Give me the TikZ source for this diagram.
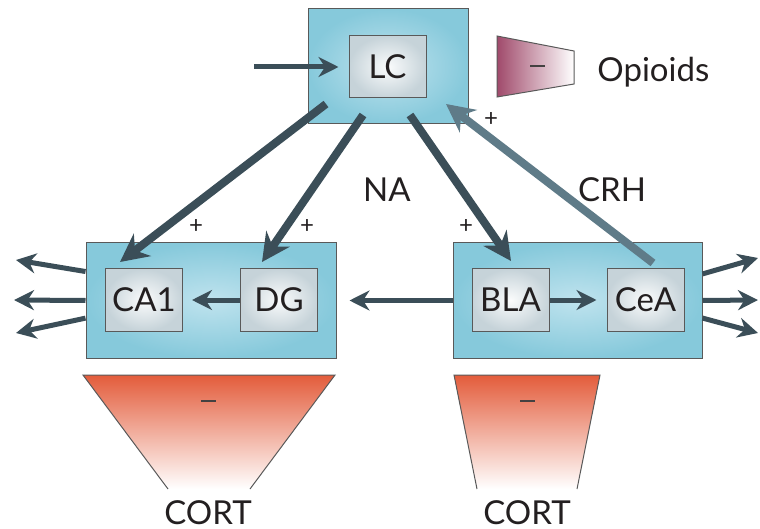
\documentclass[tikz,border=0pt]{standalone}
\usepackage{fontspec}
\setmainfont{Lato}
\usetikzlibrary{arrows.meta}
\definecolor{arrowdark}{HTML}{3B4E58}
\definecolor{crhgray}{HTML}{5F7B88}
\definecolor{boxblue}{HTML}{86C9DB}
\definecolor{boxlight}{HTML}{BFE3EE}
\definecolor{cellgray}{HTML}{C6D3D9}
\definecolor{cortred}{HTML}{E35C3B}
\definecolor{opioidred}{HTML}{A04A6B}
\definecolor{textdark}{HTML}{231F20}

\begin{document}
\begin{tikzpicture}[x=0.5pt, y=-0.5pt, >=Stealth, font=\fontsize{16.5}{16.5}\selectfont, text=textdark,
    region/.style = {draw=black!65, line width=0.5pt, inner color=boxlight, outer color=boxblue, minimum height=57.5pt, inner sep=0pt},
    cell/.style = {draw=black!65, line width=0.5pt, inner color=white!92!cellgray, outer color=cellgray, minimum width=38.5pt, minimum height=31pt, inner sep=0pt},
    na/.style = {line width=4pt, draw=arrowdark, -{Stealth[length=14pt, width=14pt]}},
    crh/.style = {line width=4pt, draw=crhgray, -{Stealth[length=14pt, width=14pt]}},
    outarrow/.style = {line width=2.5pt, draw=arrowdark, -{Stealth[length=10pt, width=10pt]}},
    minus/.style = {fill=textdark!85, minimum width=7.5pt, minimum height=0.8pt, inner sep=0pt},
    sign/.style = {font=\fontsize{12}{12}\selectfont}]
    \useasboundingbox (0,0) rectangle (760,529);

    % Nodes
    \node[region, minimum width=80pt] (lcbox) at (388,66.5) {};
    \node[region, minimum width=125pt] (hipbox) at (211,300.5) {};
    \node[region, minimum width=124.5pt] (amybox) at (577.5,300.5) {};

    \node[cell] (lc) at (387.5,67) {LC};
    \node[cell] (ca1) at (144,300) {CA1};
    \node[cell] (dg) at (279,300) {DG};
    \node[cell] (bla) at (510.5,300) {BLA};
    \node[cell] (cea) at (645.5,300) {CeA};

    % Opioids and CORT
    \shadedraw[left color=opioidred, right color=white, draw=black!65, line width=0.5pt]
        (497,36) -- (574,51) -- (574,84) -- (497,97) -- cycle;
    \node[minus] (opmin) at (537,66) {};
    \node[anchor=base west, inner sep=0pt] (opioids) at (597,82) {Opioids};

    \shade[top color=cortred, bottom color=white] (83,375) -- (335,375) -- (250,489) -- (168,489) -- cycle;
    \draw[black!65, line width=0.5pt] (168,489) -- (83,375) -- (335,375) -- (250,489);
    \node[minus] (cmin1) at (208,401) {};
    \node (cort1) at (208,513) {CORT};

    \shade[top color=cortred, bottom color=white] (454,375) -- (600,375) -- (577,489) -- (477,489) -- cycle;
    \draw[black!65, line width=0.5pt] (477,489) -- (454,375) -- (600,375) -- (577,489);
    \node[minus] (cmin2) at (527,401) {};
    \node (cort2) at (527,513) {CORT};

    \node (na) at (387,190) {NA};
    \node (crhlab) at (612,190) {CRH};
    \node[sign] (p1) at (196,227) {+};
    \node[sign] (p2) at (307,227) {+};
    \node[sign] (p3) at (466,227) {+};
    \node[sign] (p4) at (491,120) {+};

    \coordinate (in) at (254,67);
    \coordinate (na1s) at (326,104);
    \coordinate (na1e) at (120,262);
    \coordinate (na2s) at (363,115);
    \coordinate (na2e) at (262,262);
    \coordinate (na3s) at (410,115);
    \coordinate (na3e) at (511,261);
    \coordinate (crhs) at (653,263);
    \coordinate (crhe) at (446,104);
    \coordinate (lo1) at (16,260);
    \coordinate (lo2) at (14,300);
    \coordinate (lo3) at (16,333);
    \coordinate (ro1) at (758,258);
    \coordinate (ro2) at (758,300);
    \coordinate (ro3) at (758,333);

    % Edges
    \draw[outarrow, shorten >=5pt] (in) -- (lc);
    \draw[na] (na1s) -- (na1e);
    \draw[na] (na2s) -- (na2e);
    \draw[na] (na3s) -- (na3e);
    \draw[crh] (crhs) -- (crhe);
    \draw[outarrow, shorten >=4.5pt] (dg) -- (ca1);
    \draw[outarrow, shorten >=5pt] (bla) -- (cea);
    \draw[outarrow, shorten >=6.5pt] (amybox) -- (hipbox);
    \draw[outarrow] (hipbox.167.6) -- (lo1);
    \draw[outarrow] (hipbox.west) -- (lo2);
    \draw[outarrow] (hipbox.188) -- (lo3);
    \draw[outarrow] (amybox.12.46) -- (ro1);
    \draw[outarrow] (amybox.east) -- (ro2);
    \draw[outarrow] (amybox.352) -- (ro3);
\end{tikzpicture}
\end{document}
